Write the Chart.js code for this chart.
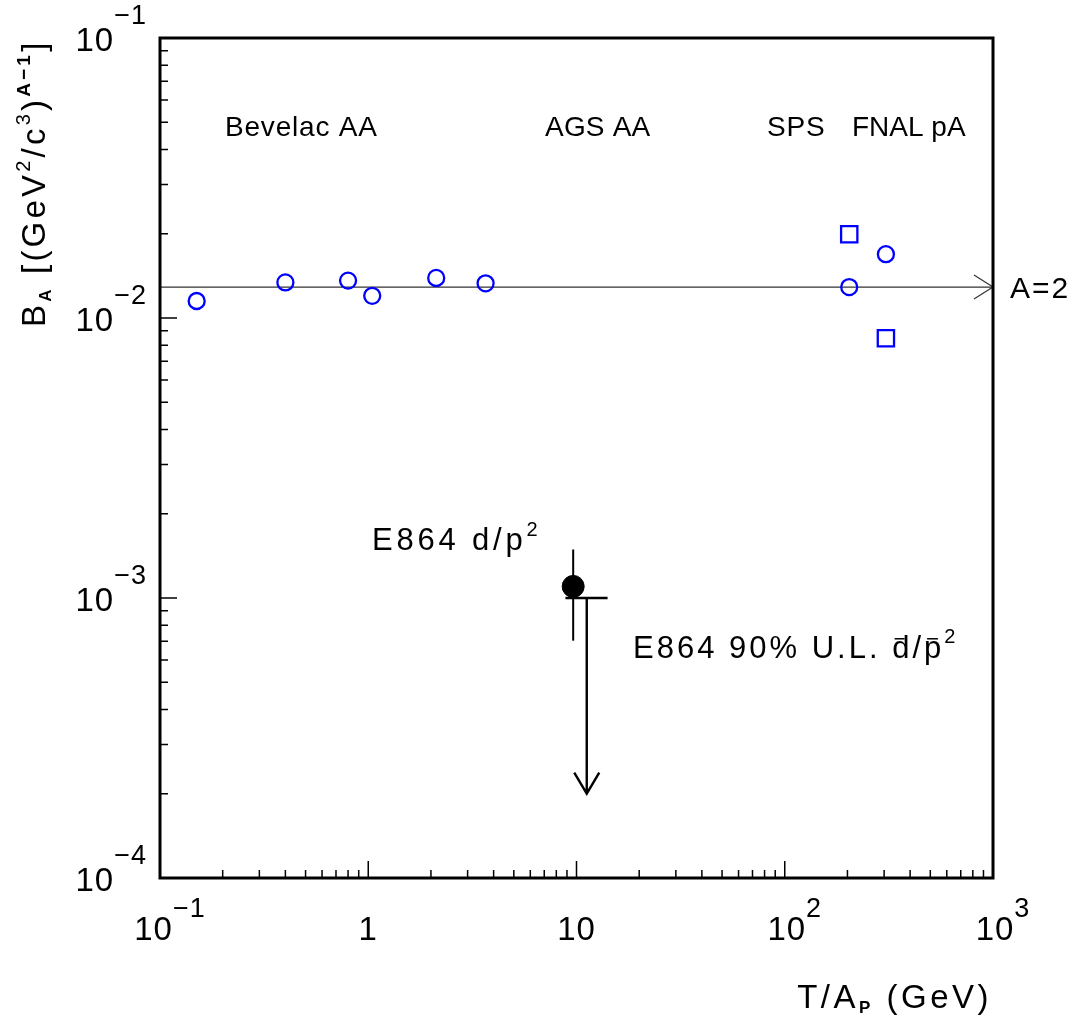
<!DOCTYPE html>
<html>
<head>
<meta charset="utf-8">
<script src="https://cdn.jsdelivr.net/npm/chart.js@4.4.1/dist/chart.umd.min.js"></script>
<style>
  html, body { margin: 0; padding: 0; background: #fff; }
  #wrap { width: 1078px; height: 1026px; }
</style>
</head>
<body>
<div id="wrap"><canvas id="chart" width="1078" height="1026"></canvas></div>
<script>
// data
const aaX = [0.15, 0.40, 0.80, 1.045, 2.12, 3.66];
const aaY = [0.0115, 0.0134, 0.0136, 0.0120, 0.0139, 0.0133];
const paCircleX = [204, 306];
const paCircleY = [0.0129, 0.0169];
const paSquareX = [204, 306];
const paSquareY = [0.0199, 0.00846];
const e864X = [9.64];
const e864Y = [0.0011];
const e864YLow = [0.000704];
const e864YHigh = [0.00149];
const ulX = [11.2];
const ulY = [0.001];
const ulXLow = [8.85];
const ulXHigh = [14.1];
const ulArrowTo = [0.0002];
const a2Value = 0.0129;

const xTicks = [0.1, 1, 10, 100, 1000];
const xTickBase = ["10", "1", "10", "10", "10"];
const xTickExp = ["−1", "", "", "2", "3"];
const yTicks = [1e-4, 1e-3, 1e-2, 1e-1];
const yTickBase = ["10", "10", "10", "10"];
const yTickExp = ["−4", "−3", "−2", "−1"];

const FONT = '"Liberation Sans", Arial, sans-serif';

function pts(xs, ys) {
  return xs.map((x, i) => ({ x: x, y: ys[i] }));
}

// width of a run of text pieces
function richWidth(ctx, segs, spacing) {
  let w = 0;
  segs.forEach((s) => {
    ctx.font = (s.bold ? "bold " : "") + s.size + "px " + FONT;
    ctx.letterSpacing = (s.ls != null ? s.ls : spacing) + "px";
    w += ctx.measureText(s.t).width;
  });
  ctx.letterSpacing = "0px";
  return w;
}

// draws text pieces (size, baseline shift, bold, overbar) one after another
function drawRich(ctx, x, y, segs, spacing) {
  let cx = x;
  segs.forEach((s) => {
    ctx.font = (s.bold ? "bold " : "") + s.size + "px " + FONT;
    ctx.letterSpacing = (s.ls != null ? s.ls : spacing) + "px";
    const w = ctx.measureText(s.t).width;
    ctx.fillText(s.t, cx, y + (s.dy || 0));
    if (s.bar) {
      ctx.save();
      ctx.lineWidth = 1.5;
      ctx.beginPath();
      ctx.moveTo(cx + s.bar[0] * s.size, y - s.size * 0.62);
      ctx.lineTo(cx + s.bar[1] * s.size, y - s.size * 0.62);
      ctx.stroke();
      ctx.restore();
    }
    cx += w;
  });
  ctx.letterSpacing = "0px";
  return cx;
}

const decorations = {
  id: "decorations",
  afterDatasetsDraw(chart) {
    const ctx = chart.ctx;
    const a = chart.chartArea;
    const xs = chart.scales.x;
    const ys = chart.scales.y;
    ctx.save();
    ctx.strokeStyle = "#000";
    ctx.fillStyle = "#000";
    ctx.textBaseline = "alphabetic";
    ctx.textAlign = "left";

    // A=2 arrow head at the right frame
    const yA = ys.getPixelForValue(a2Value);
    ctx.strokeStyle = "#333";
    ctx.lineWidth = 1.2;
    ctx.beginPath();
    ctx.moveTo(a.right - 19, yA - 12);
    ctx.lineTo(a.right, yA);
    ctx.lineTo(a.right - 19, yA + 12);
    ctx.stroke();

    // E864 error bar
    ctx.strokeStyle = "#000";
    ctx.lineWidth = 2;
    e864X.forEach((x, i) => {
      const px = xs.getPixelForValue(x);
      ctx.beginPath();
      ctx.moveTo(px, ys.getPixelForValue(e864YHigh[i]));
      ctx.lineTo(px, ys.getPixelForValue(e864YLow[i]));
      ctx.stroke();
    });

    // upper limit with arrow
    ctx.lineWidth = 2.4;
    ulX.forEach((x, i) => {
      const px = xs.getPixelForValue(x);
      const py = ys.getPixelForValue(ulY[i]);
      const pe = ys.getPixelForValue(ulArrowTo[i]);
      ctx.beginPath();
      ctx.moveTo(xs.getPixelForValue(ulXLow[i]), py);
      ctx.lineTo(xs.getPixelForValue(ulXHigh[i]), py);
      ctx.moveTo(px, py);
      ctx.lineTo(px, pe);
      ctx.moveTo(px - 12.5, pe - 21);
      ctx.lineTo(px, pe);
      ctx.lineTo(px + 12.5, pe - 21);
      ctx.stroke();
    });

    // frame
    ctx.lineWidth = 3;
    ctx.strokeRect(a.left, a.top, a.right - a.left, a.bottom - a.top);

    // ticks (inside, left and bottom only)
    ctx.lineWidth = 1.5;
    ctx.beginPath();
    for (let d = -1; d < 3; d++) {
      for (let m = 1; m <= 9; m++) {
        const px = xs.getPixelForValue(m * Math.pow(10, d));
        const len = m === 1 ? 17 : 8;
        ctx.moveTo(px, a.bottom);
        ctx.lineTo(px, a.bottom - len);
      }
    }
    for (let d = -4; d < -1; d++) {
      for (let m = 1; m <= 9; m++) {
        const py = ys.getPixelForValue(m * Math.pow(10, d));
        const len = m === 1 ? 17 : 8;
        ctx.moveTo(a.left, py);
        ctx.lineTo(a.left + len, py);
      }
    }
    ctx.stroke();

    // tick labels
    xTicks.forEach((v, i) => {
      const px = xs.getPixelForValue(v);
      const segs = [{ t: xTickBase[i], size: 33 }];
      if (xTickExp[i]) segs.push({ t: xTickExp[i], size: 27, dy: -23 });
      const w = richWidth(ctx, segs, 1);
      const shift = xTickExp[i] ? 10 : 0;
      drawRich(ctx, px - w / 2 + shift, 940, segs, 1);
    });
    yTicks.forEach((v, i) => {
      const py = ys.getPixelForValue(v);
      const segs = [{ t: yTickBase[i], size: 33 }, { t: yTickExp[i], size: 27, dy: -27 }];
      const w = richWidth(ctx, segs, 1);
      drawRich(ctx, 147 - w, py + 13, segs, 1);
    });

    // axis titles
    const xt = [
      { t: "T/A", size: 33 },
      { t: "P", size: 17, bold: true, dy: 5 },
      { t: " (GeV)", size: 33 }
    ];
    const xw = richWidth(ctx, xt, 3.5);
    drawRich(ctx, 992 - xw, 1008, xt, 3.5);

    const yt = [
      { t: "B", size: 33 },
      { t: "A", size: 17, bold: true, dy: 6 },
      { t: " [(GeV", size: 33 },
      { t: "2", size: 20, dy: -15 },
      { t: "/c", size: 33 },
      { t: "3", size: 20, dy: -15 },
      { t: ")", size: 33 },
      { t: "A−1", size: 19, bold: true, dy: -15 },
      { t: "]", size: 33 }
    ];
    ctx.save();
    ctx.translate(45, 327);
    ctx.rotate(-Math.PI / 2);
    drawRich(ctx, 0, 0, yt, 3.2);
    ctx.restore();

    // region and point labels
    const lab = (segs, x, y, sp) => drawRich(ctx, x, y, segs, sp);
    lab([{ t: "Bevelac AA", size: 28 }], 225, 136, 0.8);
    lab([{ t: "AGS AA", size: 28 }], 545, 136, 0.2);
    lab([{ t: "SPS", size: 28 }], 767, 136, 0.8);
    lab([{ t: "FNAL pA", size: 28 }], 852, 136, 0);
    lab([{ t: "A=2", size: 30 }], 1010, 298, 2);
    lab([{ t: "E864 d/p", size: 31 }, { t: "2", size: 20, dy: -14 }], 372, 550, 3.8);
    lab([
      { t: "E864 90% U.L. ", size: 31 },
      { t: "d", size: 31, bar: [0.08, 0.4] },
      { t: "/", size: 31 },
      { t: "p", size: 31, bar: [0.1, 0.45] },
      { t: "2", size: 20, dy: -15 }
    ], 633, 658, 3);

    ctx.restore();
  }
};

new Chart(document.getElementById("chart"), {
  type: "scatter",
  data: {
    datasets: [
      {
        type: "line",
        data: [{ x: 0.1, y: a2Value }, { x: 1000, y: a2Value }],
        borderColor: "#333",
        borderWidth: 1.2,
        pointRadius: 0,
        order: 5
      },
      {
        data: pts(aaX, aaY),
        pointStyle: "circle",
        pointRadius: 8,
        borderColor: "#0000ff",
        backgroundColor: "rgba(0,0,0,0)",
        borderWidth: 2.3
      },
      {
        data: pts(paCircleX, paCircleY),
        pointStyle: "circle",
        pointRadius: 8,
        borderColor: "#0000ff",
        backgroundColor: "rgba(0,0,0,0)",
        borderWidth: 2.3
      },
      {
        data: pts(paSquareX, paSquareY),
        pointStyle: "rect",
        pointRadius: 11.5,
        borderColor: "#0000ff",
        backgroundColor: "rgba(0,0,0,0)",
        borderWidth: 2.3
      },
      {
        data: pts(e864X, e864Y),
        pointStyle: "circle",
        pointRadius: 11,
        borderColor: "#000",
        backgroundColor: "#000",
        borderWidth: 1
      }
    ]
  },
  options: {
    responsive: false,
    animation: false,
    events: [],
    layout: { padding: { left: 160, top: 38, right: 85, bottom: 148 } },
    plugins: { legend: { display: false }, tooltip: { enabled: false } },
    scales: {
      x: { type: "logarithmic", min: 0.1, max: 1000, display: false },
      y: { type: "logarithmic", min: 1e-4, max: 1e-1, display: false }
    }
  },
  plugins: [decorations]
});
</script>
</body>
</html>
